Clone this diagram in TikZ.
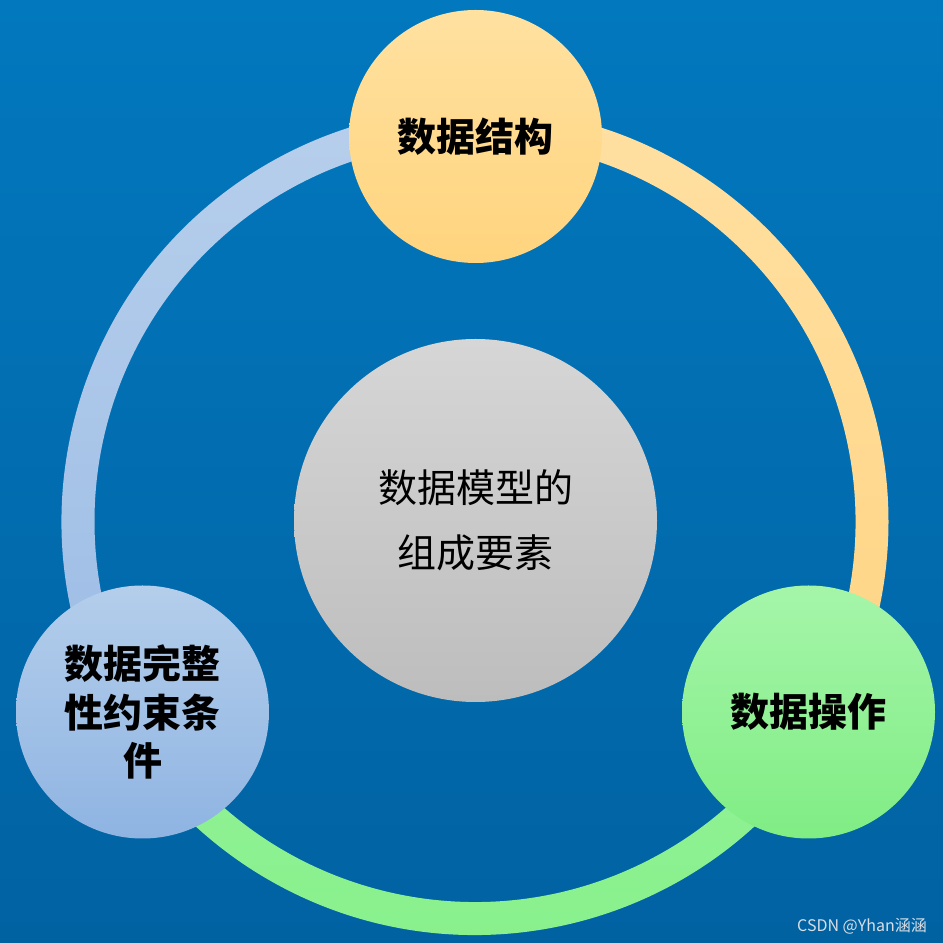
\documentclass[tikz,border=0pt]{standalone}
\usepackage{fontspec}
\newfontfamily\cjkb{Noto Sans CJK SC}
\IfFontExistsTF{FandolSong}{\newfontfamily\cjks{FandolSong}}{%
  \IfFontExistsTF{FandolSong-Regular.otf}{\newfontfamily\cjks{FandolSong-Regular.otf}}{\newfontfamily\cjks{Noto Sans CJK SC}}}
\definecolor{bgTop}{HTML}{0278BE}
\definecolor{bgBot}{HTML}{0162A2}
\definecolor{orA}{HTML}{FFE0A2}
\definecolor{orB}{HTML}{FFD483}
\definecolor{grA}{HTML}{92F298}
\definecolor{grB}{HTML}{86F089}
\definecolor{blA}{HTML}{B7CFEC}
\definecolor{blB}{HTML}{9CBCE5}
\definecolor{tcA}{HTML}{FFE1A0}
\definecolor{tcB}{HTML}{FFD47E}
\definecolor{rcA}{HTML}{A5F5A9}
\definecolor{rcB}{HTML}{80ED84}
\definecolor{lcA}{HTML}{B4CEEB}
\definecolor{lcB}{HTML}{8FB4E2}
\definecolor{mcA}{HTML}{D6D6D6}
\definecolor{mcB}{HTML}{BDBDBD}
\definecolor{wm}{HTML}{D8DEE6}
\tikzset{
  bubble/.style={circle, inner sep=0pt, minimum size=253pt, align=center,
    font={\cjkb\bfseries\fontsize{39}{48.5}\selectfont}, text=black},
  hub/.style={circle, inner sep=0pt, minimum size=363pt, align=center,
    font={\cjks\fontsize{39}{65}\selectfont}, text=black, top color=mcA, bottom color=mcB}
}
\begin{document}
\begin{tikzpicture}[x=1pt,y=1pt]
\useasboundingbox (0,0) rectangle (943,943);
\shade[top color=bgTop, bottom color=bgBot] (0,0) rectangle (943,943);
\coordinate (C) at (475,421.5);
% ring segments
\shade[top color=orA, bottom color=orB]
  ([shift={(90:413.5pt)}]C) arc[start angle=90, end angle=-30, radius=413.5pt]
  -- ([shift={(-30:380.5pt)}]C) arc[start angle=-30, end angle=90, radius=380.5pt] -- cycle;
\shade[top color=grA, bottom color=grB]
  ([shift={(-30:413.5pt)}]C) arc[start angle=-30, end angle=-150, radius=413.5pt]
  -- ([shift={(-150:380.5pt)}]C) arc[start angle=-150, end angle=-30, radius=380.5pt] -- cycle;
\shade[top color=blA, bottom color=blB]
  ([shift={(210:413.5pt)}]C) arc[start angle=210, end angle=90, radius=413.5pt]
  -- ([shift={(90:380.5pt)}]C) arc[start angle=90, end angle=210, radius=380.5pt] -- cycle;
% hub
\node[hub] (hub) at (475.5,422.5) {数据模型的\\组成要素};
% bubbles
\node[bubble, top color=tcA, bottom color=tcB] (struct) at (475.5,806.5) {数据结构};
\node[bubble, top color=rcA, bottom color=rcB] (oper) at (808.5,231) {数据操作};
\node[bubble, top color=lcA, bottom color=lcB] (integ) at (142.5,231) {数据完整\\性约束条\\件};
% watermark
\node[anchor=base east, inner sep=0pt, text=wm, font={\cjkb\fontsize{16}{19}\selectfont}] (wmk) at (927,11) {CSDN @Yhan涵涵};
\end{tikzpicture}
\end{document}
